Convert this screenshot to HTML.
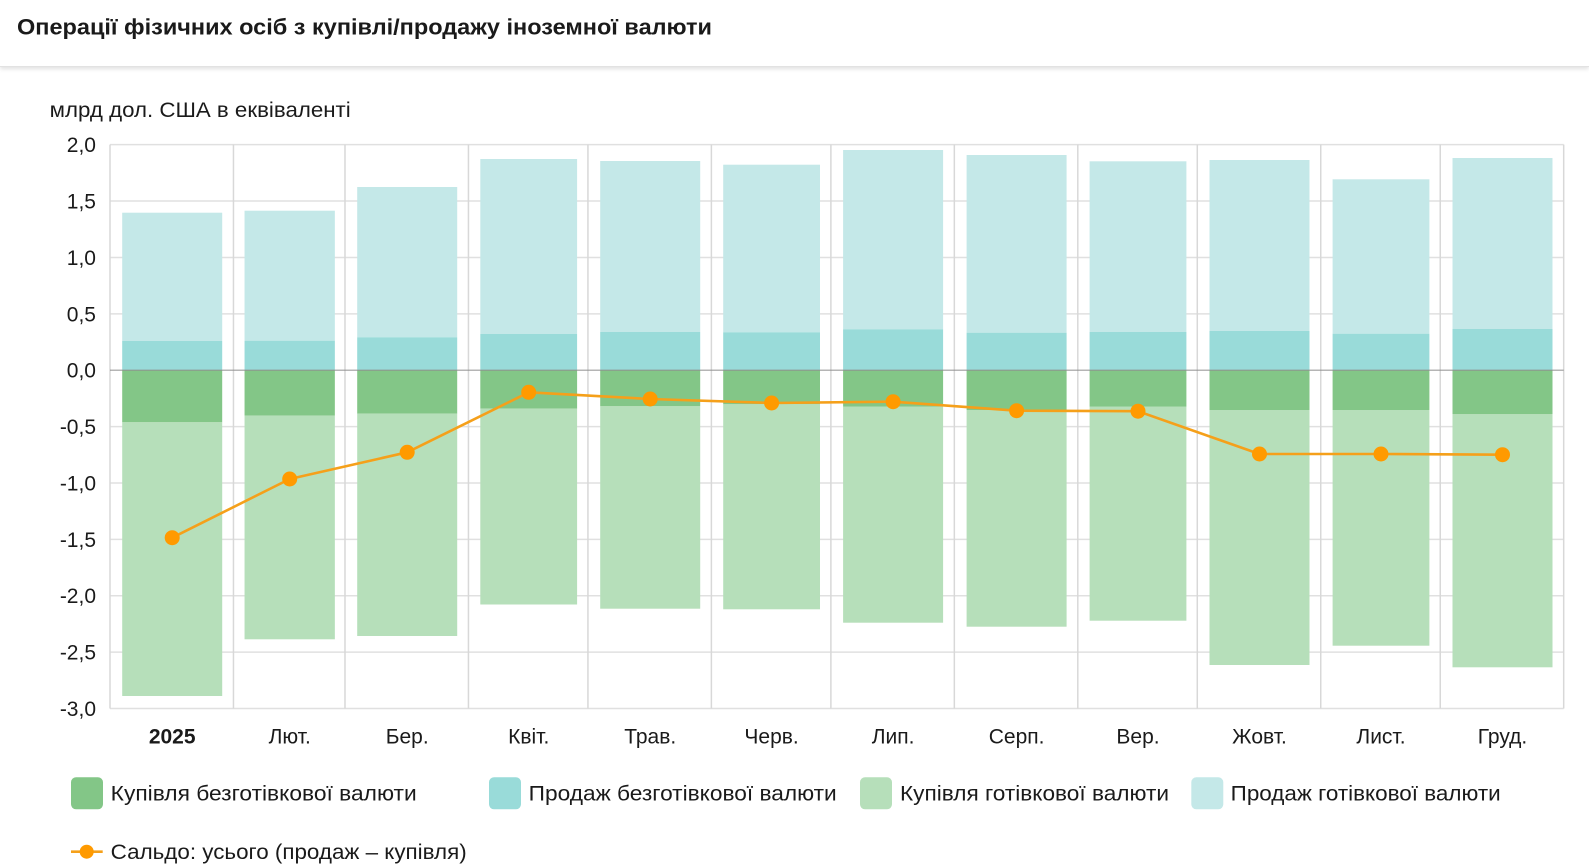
<!DOCTYPE html>
<html>
<head>
<meta charset="utf-8">
<style>
  html, body { margin: 0; padding: 0; background: #ffffff; }
  body { width: 1589px; height: 865px; overflow: hidden; position: relative; font-family: "Liberation Sans", "Noto Sans CJK SC", sans-serif; }
  .hdr { position: absolute; left: 0; top: 0; width: 1589px; height: 66px; background: #fff; border-bottom: 1px solid #e2e2e2; box-shadow: 0 2px 4px rgba(0,0,0,0.12); }
  svg { position: absolute; left: 0; top: 0; }
  text { font-family: "Liberation Sans", "Noto Sans CJK SC", sans-serif; fill: #1a1a1a; }
</style>
</head>
<body>
<div class="hdr"></div>
<svg width="1589" height="865" viewBox="0 0 1589 865" xmlns="http://www.w3.org/2000/svg">
  <!-- Title -->
  <text x="17" y="34.5" font-size="22" font-weight="bold" textLength="695" lengthAdjust="spacingAndGlyphs">Операції фізичних осіб з купівлі/продажу іноземної валюти</text>

  <!-- Unit label -->
  <text x="49.7" y="117" font-size="21" textLength="301" lengthAdjust="spacingAndGlyphs">млрд дол. США в еквіваленті</text>

  <!-- Horizontal gridlines -->
  <g stroke="#e0e0e0" stroke-width="1.5">
    <line x1="110" y1="144.68" x2="1563.7" y2="144.68"/>
    <line x1="110" y1="201.06" x2="1563.7" y2="201.06"/>
    <line x1="110" y1="257.44" x2="1563.7" y2="257.44"/>
    <line x1="110" y1="313.82" x2="1563.7" y2="313.82"/>
    <line x1="110" y1="426.58" x2="1563.7" y2="426.58"/>
    <line x1="110" y1="482.96" x2="1563.7" y2="482.96"/>
    <line x1="110" y1="539.34" x2="1563.7" y2="539.34"/>
    <line x1="110" y1="595.72" x2="1563.7" y2="595.72"/>
    <line x1="110" y1="652.1" x2="1563.7" y2="652.1"/>
    <line x1="110" y1="708.48" x2="1563.7" y2="708.48"/>
  </g>
  <!-- Vertical gridlines -->
  <g stroke="#d8d8d8" stroke-width="1.5">
    <line x1="110" y1="144.68" x2="110" y2="708.48"/>
    <line x1="233.46" y1="144.68" x2="233.46" y2="708.48"/>
    <line x1="344.98" y1="144.68" x2="344.98" y2="708.48"/>
    <line x1="468.45" y1="144.68" x2="468.45" y2="708.48"/>
    <line x1="587.93" y1="144.68" x2="587.93" y2="708.48"/>
    <line x1="711.39" y1="144.68" x2="711.39" y2="708.48"/>
    <line x1="830.88" y1="144.68" x2="830.88" y2="708.48"/>
    <line x1="954.34" y1="144.68" x2="954.34" y2="708.48"/>
    <line x1="1077.81" y1="144.68" x2="1077.81" y2="708.48"/>
    <line x1="1197.29" y1="144.68" x2="1197.29" y2="708.48"/>
    <line x1="1320.75" y1="144.68" x2="1320.75" y2="708.48"/>
    <line x1="1440.24" y1="144.68" x2="1440.24" y2="708.48"/>
    <line x1="1563.7" y1="144.68" x2="1563.7" y2="708.48"/>
  </g>

  <!-- Bars: sale cash (light cyan) -->
  <g fill="#c4e8e8">
    <rect x="122.2" y="212.7" width="100" height="128.3"/>
    <rect x="244.55" y="210.7" width="90.3" height="130"/>
    <rect x="357.2" y="187" width="100" height="150.3"/>
    <rect x="480.3" y="159" width="96.8" height="175"/>
    <rect x="600.2" y="161" width="100" height="171"/>
    <rect x="723.2" y="164.7" width="96.8" height="167.6"/>
    <rect x="843.1" y="150" width="100" height="179.3"/>
    <rect x="966.6" y="155" width="100" height="177.7"/>
    <rect x="1089.6" y="161.3" width="96.8" height="170.7"/>
    <rect x="1209.5" y="160" width="100" height="171"/>
    <rect x="1332.6" y="179.3" width="96.8" height="154.4"/>
    <rect x="1452.5" y="158" width="100" height="171"/>
  </g>
  <!-- Bars: sale non-cash (teal) -->
  <g fill="#99dbd9">
    <rect x="122.2" y="341" width="100" height="29.2"/>
    <rect x="244.55" y="340.7" width="90.3" height="29.5"/>
    <rect x="357.2" y="337.3" width="100" height="32.9"/>
    <rect x="480.3" y="334" width="96.8" height="36.2"/>
    <rect x="600.2" y="332" width="100" height="38.2"/>
    <rect x="723.2" y="332.3" width="96.8" height="37.9"/>
    <rect x="843.1" y="329.3" width="100" height="40.9"/>
    <rect x="966.6" y="332.7" width="100" height="37.5"/>
    <rect x="1089.6" y="332" width="96.8" height="38.2"/>
    <rect x="1209.5" y="331" width="100" height="39.2"/>
    <rect x="1332.6" y="333.7" width="96.8" height="36.5"/>
    <rect x="1452.5" y="329" width="100" height="41.2"/>
  </g>
  <!-- Bars: purchase non-cash (dark green) -->
  <g fill="#83c687">
    <rect x="122.2" y="370.2" width="100" height="52.1"/>
    <rect x="244.55" y="370.2" width="90.3" height="45.5"/>
    <rect x="357.2" y="370.2" width="100" height="43.5"/>
    <rect x="480.3" y="370.2" width="96.8" height="38.5"/>
    <rect x="600.2" y="370.2" width="100" height="36.1"/>
    <rect x="723.2" y="370.2" width="96.8" height="34.1"/>
    <rect x="843.1" y="370.2" width="100" height="36.3"/>
    <rect x="966.6" y="370.2" width="100" height="39.8"/>
    <rect x="1089.6" y="370.2" width="96.8" height="36.6"/>
    <rect x="1209.5" y="370.2" width="100" height="39.8"/>
    <rect x="1332.6" y="370.2" width="96.8" height="39.8"/>
    <rect x="1452.5" y="370.2" width="100" height="44.1"/>
  </g>
  <!-- Bars: purchase cash (light green) -->
  <g fill="#b6dfba">
    <rect x="122.2" y="422.3" width="100" height="273.7"/>
    <rect x="244.55" y="415.7" width="90.3" height="223.6"/>
    <rect x="357.2" y="413.7" width="100" height="222.3"/>
    <rect x="480.3" y="408.7" width="96.8" height="195.8"/>
    <rect x="600.2" y="406.3" width="100" height="202.4"/>
    <rect x="723.2" y="404.3" width="96.8" height="205"/>
    <rect x="843.1" y="406.5" width="100" height="216.2"/>
    <rect x="966.6" y="410" width="100" height="216.7"/>
    <rect x="1089.6" y="406.8" width="96.8" height="213.9"/>
    <rect x="1209.5" y="410" width="100" height="255"/>
    <rect x="1332.6" y="410" width="96.8" height="235.7"/>
    <rect x="1452.5" y="414.3" width="100" height="253"/>
  </g>

  <!-- Zero line -->
  <line x1="110" y1="370.2" x2="1563.7" y2="370.2" stroke="#8c8c8c" stroke-width="1.2" stroke-opacity="0.85"/>

  <!-- Balance line -->
  <polyline fill="none" stroke="#f5a01a" stroke-width="2.6" stroke-linejoin="round"
    points="172.2,537.7 289.7,479 407.2,452.3 528.7,392.3 650.2,399 771.6,403 893.1,401.7 1016.6,410.7 1138,411.2 1259.5,454 1381,454 1502.5,454.7"/>
  <g fill="#ff9a00">
    <circle cx="172.2" cy="537.7" r="7.5"/>
    <circle cx="289.7" cy="479" r="7.5"/>
    <circle cx="407.2" cy="452.3" r="7.5"/>
    <circle cx="528.7" cy="392.3" r="7.5"/>
    <circle cx="650.2" cy="399" r="7.5"/>
    <circle cx="771.6" cy="403" r="7.5"/>
    <circle cx="893.1" cy="401.7" r="7.5"/>
    <circle cx="1016.6" cy="410.7" r="7.5"/>
    <circle cx="1138" cy="411.2" r="7.5"/>
    <circle cx="1259.5" cy="454" r="7.5"/>
    <circle cx="1381" cy="454" r="7.5"/>
    <circle cx="1502.5" cy="454.7" r="7.5"/>
  </g>

  <!-- Y axis labels -->
  <g font-size="21" text-anchor="end">
    <text x="96" y="152.2">2,0</text>
    <text x="96" y="208.6">1,5</text>
    <text x="96" y="264.9">1,0</text>
    <text x="96" y="321.3">0,5</text>
    <text x="96" y="377.7">0,0</text>
    <text x="96" y="434.1">-0,5</text>
    <text x="96" y="490.5">-1,0</text>
    <text x="96" y="546.8">-1,5</text>
    <text x="96" y="603.2">-2,0</text>
    <text x="96" y="659.6">-2,5</text>
    <text x="96" y="716">-3,0</text>
  </g>

  <!-- X axis labels -->
  <g font-size="21" text-anchor="middle">
    <text x="172.2" y="743.5" font-weight="bold">2025</text>
    <text x="289.7" y="743.5">Лют.</text>
    <text x="407.2" y="743.5">Бер.</text>
    <text x="528.7" y="743.5">Квіт.</text>
    <text x="650.2" y="743.5">Трав.</text>
    <text x="771.6" y="743.5">Черв.</text>
    <text x="893.1" y="743.5">Лип.</text>
    <text x="1016.6" y="743.5">Серп.</text>
    <text x="1138" y="743.5">Вер.</text>
    <text x="1259.5" y="743.5">Жовт.</text>
    <text x="1381" y="743.5">Лист.</text>
    <text x="1502.5" y="743.5">Груд.</text>
  </g>

  <!-- Legend row 1 -->
  <rect x="71" y="777.3" width="32" height="32" rx="5" fill="#83c687"/>
  <text x="110.7" y="800.7" font-size="21" textLength="306" lengthAdjust="spacingAndGlyphs">Купівля безготівкової валюти</text>
  <rect x="489" y="777.3" width="32" height="32" rx="5" fill="#99dbd9"/>
  <text x="528.7" y="800.7" font-size="21" textLength="308" lengthAdjust="spacingAndGlyphs">Продаж безготівкової валюти</text>
  <rect x="860" y="777.3" width="32" height="32" rx="5" fill="#b6dfba"/>
  <text x="900" y="800.7" font-size="21" textLength="269" lengthAdjust="spacingAndGlyphs">Купівля готівкової валюти</text>
  <rect x="1191.3" y="777.3" width="32" height="32" rx="5" fill="#c4e8e8"/>
  <text x="1230.7" y="800.7" font-size="21" textLength="270" lengthAdjust="spacingAndGlyphs">Продаж готівкової валюти</text>

  <!-- Legend row 2 -->
  <line x1="71" y1="851.7" x2="102.7" y2="851.7" stroke="#f5a01a" stroke-width="2.6"/>
  <circle cx="86.7" cy="851.7" r="7" fill="#ff9a00"/>
  <text x="110.7" y="859" font-size="21" textLength="356" lengthAdjust="spacingAndGlyphs">Сальдо: усього (продаж – купівля)</text>
</svg>
</body>
</html>
